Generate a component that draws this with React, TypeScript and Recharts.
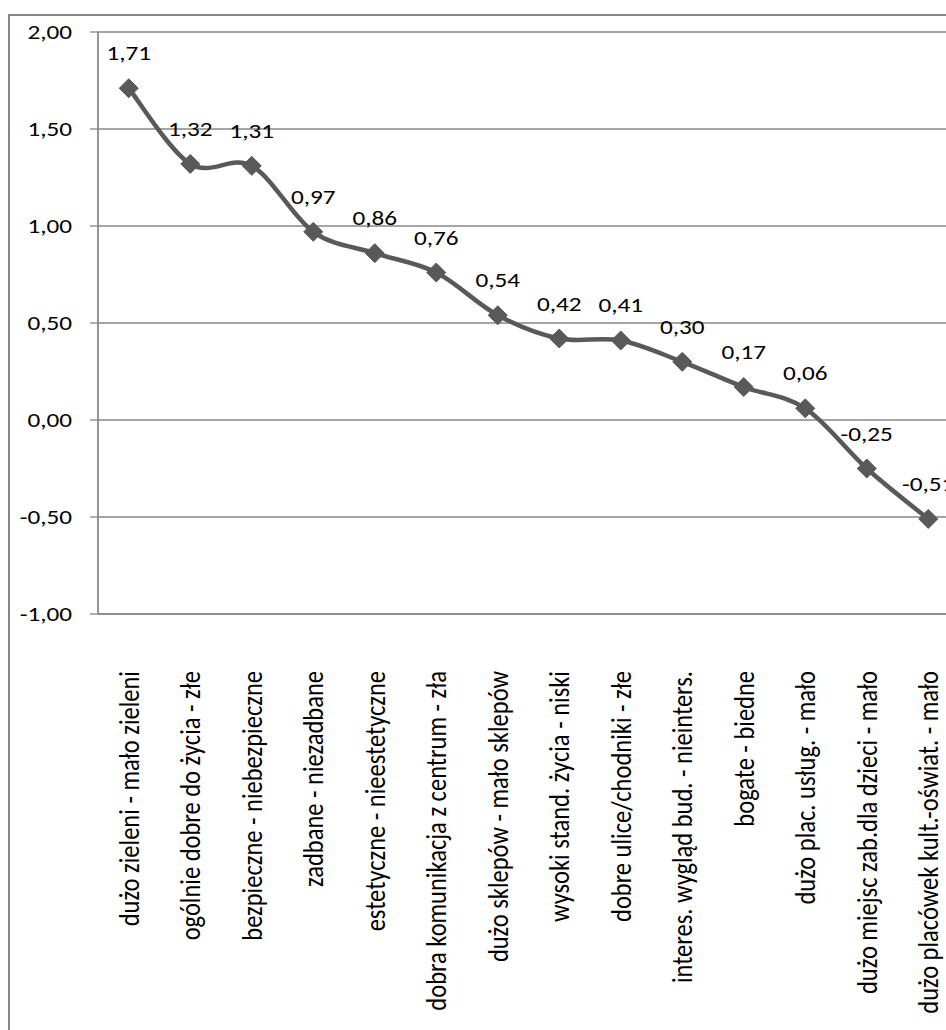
import { CartesianGrid, LabelList, Line, LineChart, XAxis, YAxis } from "recharts";

const categories = [
  "dużo zieleni - mało zieleni",
  "ogólnie dobre do życia - złe",
  "bezpieczne - niebezpieczne",
  "zadbane - niezadbane",
  "estetyczne - nieestetyczne",
  "dobra komunikacja z centrum - zła",
  "dużo sklepów - mało sklepów",
  "wysoki stand. życia - niski",
  "dobre ulice/chodniki - złe",
  "interes. wygląd bud. - nieinters.",
  "bogate - biedne",
  "dużo plac. usług. - mało",
  "dużo miejsc zab.dla dzieci - mało",
  "dużo placówek kult.-oświat. - mało",
];
const values = [1.71, 1.32, 1.31, 0.97, 0.86, 0.76, 0.54, 0.42, 0.41, 0.3, 0.17, 0.06, -0.25, -0.51];
const yTicks = [-1, -0.5, 0, 0.5, 1, 1.5, 2];

const data = categories.map((name, i) => ({ name, value: values[i] }));
const boundaries = [...categories.map((_, i) => i), categories.length];

const FONT = "Carlito, Calibri, Lato, sans-serif";
const GRID = "#878787";
const LINE = "#595959";
const fmt = (v: number) => v.toFixed(2).replace(".", ",");

// Excel-like smoothing (Catmull-Rom through the points)
function excelSmooth(context: any) {
  let pts: number[][] = [];
  return {
    areaStart() {},
    areaEnd() {},
    lineStart() {
      pts = [];
    },
    point(x: number, y: number) {
      pts.push([+x, +y]);
    },
    lineEnd() {
      if (!pts.length) return;
      const k = 1 / 6;
      context.moveTo(pts[0][0], pts[0][1]);
      for (let i = 0; i < pts.length - 1; i++) {
        const p0 = pts[Math.max(i - 1, 0)];
        const p1 = pts[i];
        const p2 = pts[i + 1];
        const p3 = pts[Math.min(i + 2, pts.length - 1)];
        context.bezierCurveTo(
          p1[0] + (p2[0] - p0[0]) * k,
          p1[1] + (p2[1] - p0[1]) * k,
          p2[0] - (p3[0] - p1[0]) * k,
          p2[1] - (p3[1] - p1[1]) * k,
          p2[0],
          p2[1]
        );
      }
    },
  };
}

const Diamond = (p: any) => {
  const { cx, cy, index } = p;
  if (cx == null || cy == null) return <g key={index} />;
  const r = 9.5;
  return (
    <polygon
      key={index}
      points={`${cx},${cy - r} ${cx + r},${cy} ${cx},${cy + r} ${cx - r},${cy}`}
      fill={LINE}
      stroke={LINE}
      strokeWidth={1}
    />
  );
};

const ValueLabel = (p: any) => {
  const { x, y, value } = p;
  return (
    <text
      transform={`translate(${x},${y - 28}) scale(1.2,1)`}
      textAnchor="middle"
      fontFamily={FONT}
      fontSize={21}
      fill="#000"
    >
      {fmt(value)}
    </text>
  );
};

const YTick = (p: any) => (
  <text
    transform={`translate(${p.x},${p.y}) scale(1.2,1)`}
    textAnchor="end"
    dy="0.35em"
    fontFamily={FONT}
    fontSize={21}
    fill="#000"
  >
    {fmt(p.payload.value)}
  </text>
);

const XTick = (p: any) => (
  <text
    transform={`translate(${p.x},${p.y + 41}) scale(1.15,1) rotate(-90)`}
    textAnchor="end"
    dy="0.35em"
    fontFamily={FONT}
    fontSize={24.5}
    fill="#000"
  >
    {p.payload.value}
  </text>
);

export default function App() {
  return (
    <div style={{ position: "fixed", left: 0, top: 0, width: 946, height: 1030, overflow: "hidden", background: "#fff" }}>
      <div
        style={{
          position: "absolute",
          left: 8,
          top: 14,
          width: 1000,
          height: 1100,
          border: `2px solid ${GRID}`,
          boxSizing: "border-box",
        }}
      />
      <div style={{ position: "absolute", left: 0, top: 0 }}>
        <LineChart width={980} height={1040} data={data} margin={{ top: 32, right: 21, bottom: 18, left: 0 }}>
          <CartesianGrid xAxisId={0} stroke={GRID} strokeWidth={1.3} />
          <XAxis
            xAxisId={0}
            type="number"
            domain={[0, categories.length]}
            ticks={boundaries}
            allowDataOverflow
            tick={false}
            tickSize={8}
            height={8}
            stroke={GRID}
            strokeWidth={1.3}
          />
          <XAxis
            xAxisId={1}
            dataKey="name"
            scale="band"
            interval={0}
            tickLine={false}
            axisLine={false}
            height={400}
            tick={XTick}
          />
          <YAxis
            domain={[-1, 2]}
            ticks={yTicks}
            width={98}
            tickSize={8}
            tickMargin={18}
            stroke={GRID}
            strokeWidth={1.3}
            tick={YTick}
          />
          <Line
            xAxisId={1}
            dataKey="value"
            type={excelSmooth as any}
            stroke={LINE}
            strokeWidth={4.5}
            dot={Diamond}
            activeDot={false}
            isAnimationActive={false}
          >
            <LabelList dataKey="value" content={ValueLabel} />
          </Line>
        </LineChart>
      </div>
    </div>
  );
}
